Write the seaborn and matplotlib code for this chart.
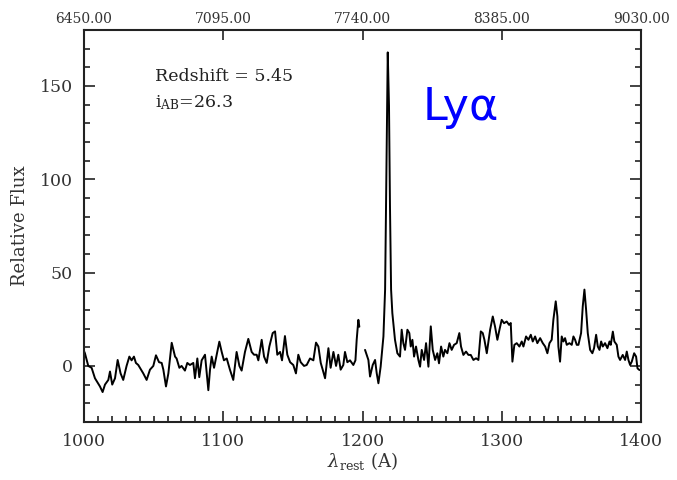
import numpy as np
import pandas as pd
import matplotlib
matplotlib.use("Agg")
import matplotlib.pyplot as plt
from matplotlib.ticker import FixedLocator, FormatStrFormatter
import seaborn as sns

# Rest-frame spectrum, blue side of the detector gap (Angstrom, relative flux)
wl_blue = [1000.0, 1000.7, 1003.1, 1005.5, 1007.9, 1011.5, 1013.4, 1015.1, 1017.5, 1018.7,
           1020.3, 1022.3, 1024.2, 1026.3, 1028.2, 1030.6, 1032.6, 1034.2, 1035.9, 1037.3,
           1039.0, 1040.2, 1042.6, 1045.0, 1047.4, 1049.8, 1051.7, 1053.9, 1055.8, 1057.0,
           1058.9, 1060.6, 1063.0, 1065.4, 1066.5, 1068.5, 1070.1, 1072.5, 1074.2, 1076.1,
           1078.5, 1079.7, 1081.4, 1082.8, 1084.5, 1086.9, 1089.3, 1090.5, 1091.7, 1093.4,
           1095.3, 1097.2, 1098.9, 1100.5, 1102.5, 1104.8, 1107.2, 1109.6, 1111.6, 1113.2,
           1115.6, 1118.0, 1120.4, 1122.1, 1124.0, 1125.2, 1127.6, 1129.3, 1131.2, 1133.1,
           1135.5, 1137.2, 1138.8, 1140.8, 1142.2, 1144.3, 1146.0, 1148.0, 1150.3, 1152.2,
           1153.9, 1155.6, 1158.0, 1159.9, 1162.3, 1164.7, 1166.6, 1168.3, 1170.0, 1171.4,
           1173.1, 1175.5, 1177.1, 1179.1, 1181.0, 1182.6, 1184.3, 1186.2, 1187.4, 1189.1,
           1191.0, 1193.4, 1194.9, 1195.8, 1197.0, 1197.7]
flux_blue = [8.0, 6.8, 0.0, -1.0, -6.6, -11.0, -14.0, -10.0, -7.5, -3.0,
             -10.0, -6.6, 3.2, -4.0, -7.5, 0.0, 5.0, 3.0, 5.0, 1.6,
             0.5, -1.0, -4.0, -7.5, -2.0, 0.0, 5.7, 2.0, 1.6, -2.0,
             -11.0, -4.0, 12.4, 5.0, 4.0, -1.0, 0.0, -2.5, 1.6, 0.5,
             1.6, -6.6, 4.0, -6.0, 3.0, 6.0, -13.0, -2.0, 5.0, -1.0,
             6.0, 13.0, 7.5, 3.0, 4.0, -2.0, -7.5, 7.5, 0.0, -2.5,
             7.5, 14.5, 7.5, 6.0, 6.0, 3.0, 14.0, 5.0, 1.6, 10.4,
             17.6, 18.5, 6.0, 7.5, 3.0, 16.0, 6.0, 2.0, 0.5, -4.0,
             6.0, 2.0, 0.0, 0.5, 4.0, 3.0, 12.5, 10.4, 1.6, -2.0,
             -6.6, 9.5, -1.0, 7.5, 0.0, 6.0, -2.0, 0.5, 7.5, 2.0,
             3.0, 0.5, 3.0, 14.0, 24.7, 21.0]

# Red side, including the Lyman-alpha emission line
wl_red = [1201.8, 1204.2, 1205.4, 1207.3, 1209.0, 1210.2, 1211.4, 1213.0, 1215.0, 1216.2,
          1217.4, 1218.1, 1219.0, 1219.7, 1220.5, 1221.4, 1223.3, 1225.0, 1226.9, 1228.1,
          1229.3, 1230.5, 1232.2, 1233.6, 1234.6, 1235.8, 1237.0, 1238.4, 1240.1, 1241.3,
          1242.5, 1244.2, 1245.6, 1247.3, 1249.0, 1250.4, 1252.1, 1253.7, 1254.9, 1256.4,
          1258.0, 1259.2, 1260.9, 1262.4, 1264.0, 1265.7, 1267.6, 1269.5, 1270.7, 1272.4,
          1274.3, 1276.0, 1277.7, 1279.6, 1281.5, 1283.2, 1284.9, 1286.3, 1287.5, 1289.2,
          1291.6, 1293.5, 1295.1, 1296.8, 1298.3, 1299.9, 1301.6, 1303.5, 1305.2, 1306.4,
          1307.6, 1309.0, 1310.7, 1312.6, 1314.3, 1315.5, 1317.4, 1319.1, 1320.8, 1322.2,
          1323.9, 1325.5, 1327.5, 1329.4, 1331.1, 1332.7, 1334.2, 1335.8, 1337.0, 1338.7,
          1339.9, 1340.6, 1341.8, 1343.0, 1344.2, 1345.4, 1346.6, 1348.5, 1350.2, 1351.4,
          1352.6, 1353.8, 1355.0, 1356.9, 1358.1, 1359.3, 1360.5, 1361.7, 1363.4, 1365.0,
          1366.2, 1367.7, 1368.9, 1370.1, 1371.3, 1372.5, 1374.1, 1375.8, 1377.3, 1378.2,
          1379.7, 1380.8, 1382.5, 1383.7, 1384.9, 1386.8, 1388.5, 1389.7, 1390.9, 1392.1,
          1393.3, 1395.0, 1396.4, 1397.4, 1398.8]
flux_red = [8.6, 3.2, -5.7, 0.5, 3.2, -4.0, -9.3, -0.4, 15.8, 40.9,
            121.5, 168.0, 139.4, 85.7, 40.9, 28.3, 14.0, 6.8, 5.0, 19.4,
            12.2, 8.6, 19.4, 17.6, 10.4, 14.0, 5.0, 10.4, 3.2, -0.4,
            8.6, 3.2, 12.2, -0.4, 21.2, 8.6, 3.2, 6.8, 1.4, 10.4,
            5.0, 8.6, 6.8, 12.2, 8.6, 11.3, 12.2, 17.6, 10.4, 5.9,
            7.7, 5.9, 5.9, 3.2, 4.1, 3.2, 18.5, 17.6, 14.0, 6.8,
            19.4, 26.5, 21.2, 14.0, 19.4, 24.7, 22.9, 23.8, 22.0, 23.0,
            2.3, 11.3, 12.2, 10.4, 13.1, 10.4, 15.8, 14.0, 16.7, 13.1,
            15.8, 12.2, 14.9, 12.2, 10.4, 6.8, 12.2, 14.0, 24.7, 34.6,
            26.5, 10.4, 2.3, 15.8, 13.1, 14.9, 11.3, 12.2, 11.3, 15.8,
            14.0, 11.3, 11.3, 17.6, 31.9, 40.9, 30.1, 17.6, 8.6, 6.8,
            9.5, 16.7, 10.4, 8.6, 13.1, 10.4, 12.2, 9.5, 13.1, 11.3,
            18.4, 13.1, 11.3, 5.0, 3.2, 5.9, 3.2, 7.7, 3.2, 0.5,
            2.3, 6.8, 5.0, -1.3, -2.2]

redshift = 5.45
i_ab = 26.3
top_ticks = [6450.00, 7095.00, 7740.00, 8385.00, 9030.00]

df = pd.DataFrame({
    "wl": wl_blue + wl_red,
    "flux": flux_blue + flux_red,
    "seg": ["blue"] * len(wl_blue) + ["red"] * len(wl_red),
})

sns.set_style("ticks")
plt.rcParams["font.family"] = ["DejaVu Serif"]
plt.rcParams["mathtext.fontset"] = "dejavuserif"

fig = plt.figure(figsize=(6.77, 4.80), dpi=100)
rect = [0.124, 0.121, 0.823, 0.8165]
xlo, xhi = 1000, 1400

# Observed-frame wavelength scale, drawn on its own axes behind the spectrum
top = fig.add_axes(rect, zorder=0)
top.set_xlim(xlo * (1 + redshift), xhi * (1 + redshift))
top.set_yticks([])
top.xaxis.set_ticks_position("top")
top.xaxis.set_major_locator(FixedLocator(top_ticks))
top.xaxis.set_major_formatter(FormatStrFormatter("%.2f"))
top.tick_params(axis="x", which="major", direction="in", length=7, width=1.2,
                labelsize=10, labelcolor="#333333", pad=3, color="#222222")
top.tick_params(axis="x", which="minor", length=0)
for s in top.spines.values():
    s.set_visible(False)

ax = fig.add_axes(rect, zorder=1)
ax.patch.set_alpha(0)

sns.lineplot(data=df, x="wl", y="flux", units="seg", estimator=None,
             color="black", lw=1.4, ax=ax, legend=False)

ax.set_xlim(xlo, xhi)
ax.set_ylim(-30, 180)
ax.set_xticks(np.arange(1000, 1401, 100))
ax.set_xticks(np.arange(1000, 1401, 10), minor=True)
ax.set_yticks(np.arange(0, 151, 50))
ax.set_yticks(np.arange(-30, 181, 10), minor=True)
ax.tick_params(axis="both", which="both", direction="in", top=False, right=True,
               color="#222222", width=1.2, labelsize=12.5, labelcolor="#333333")
ax.tick_params(which="major", length=8, pad=8)
ax.tick_params(which="minor", length=4.5)
for s in ax.spines.values():
    s.set_linewidth(1.5)
    s.set_color("#222222")

ax.set_xlabel(r"$\lambda_{\rm rest}$ (A)", fontsize=13, color="#333333", labelpad=0)
ax.set_ylabel("Relative Flux", fontsize=13, color="#333333", labelpad=8)

ax.text(1051, 155, f"Redshift = {redshift}", fontsize=12.5, color="#222222",
        va="center", ha="left")
ax.text(1051, 141, r"i$_{\rm AB}$" + f"={i_ab}", fontsize=12.5, color="#222222",
        va="center", ha="left")
ax.text(1243, 132, "Lyα", fontsize=32, color="#0000ff", family="DejaVu Sans",
        va="baseline", ha="left")

fig.savefig("out.png", dpi=100)
